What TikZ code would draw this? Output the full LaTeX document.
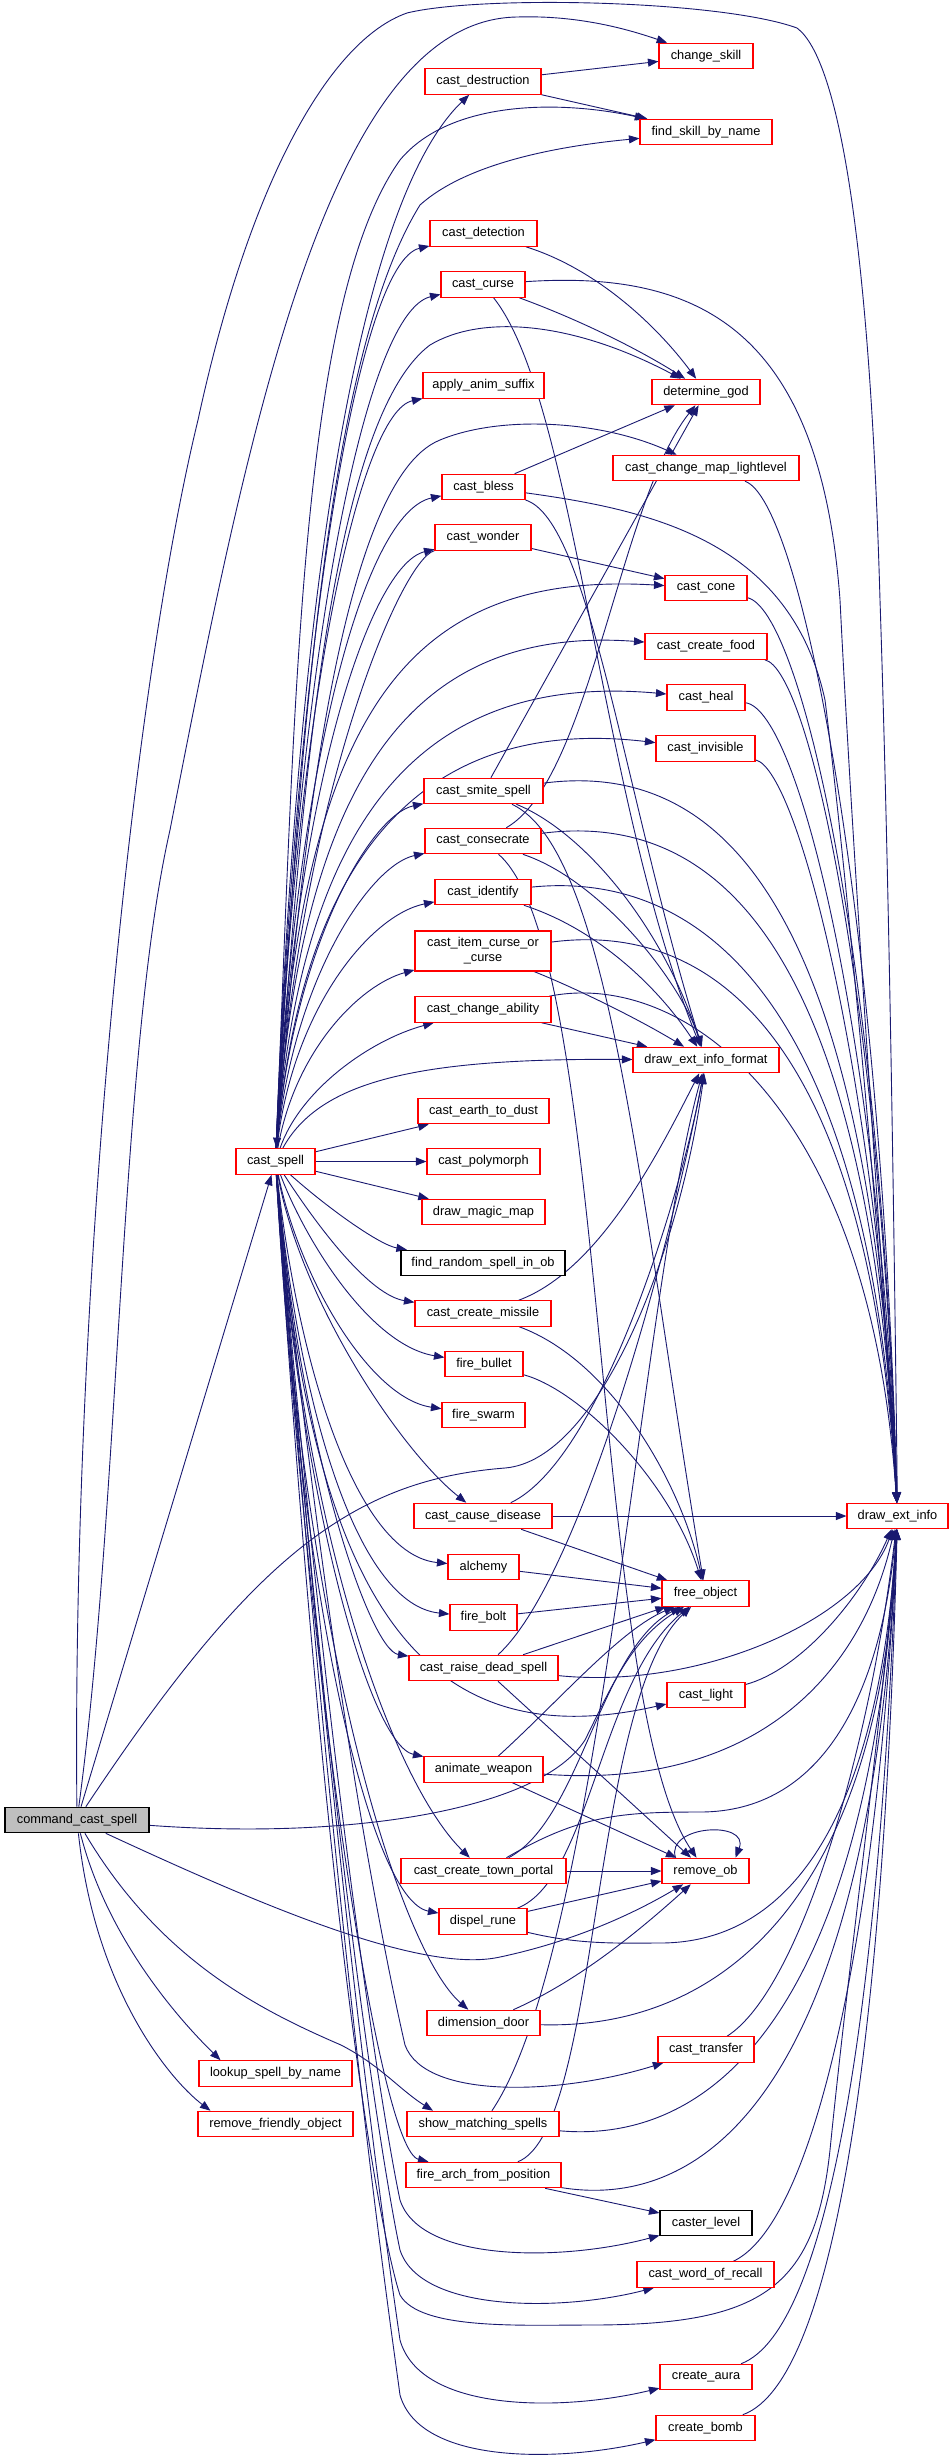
\documentclass[tikz,border=0pt]{standalone}
\usepackage{fontspec}
\setmainfont{Liberation Sans}
\usetikzlibrary{arrows.meta}
\pgfdeclarelayer{bg}
\pgfsetlayers{bg,main}
\definecolor{edgec}{HTML}{191970}
\definecolor{nred}{HTML}{FF0000}
\definecolor{ngray}{HTML}{BFBFBF}
\newcommand\nfont{\fontsize{12.8bp}{15bp}\selectfont}
\begin{document}
\begin{tikzpicture}[x=1bp,y=-1bp,
  box/.style={draw=nred, fill=white, line width=1.1bp, minimum height=25.5bp, inner sep=0pt, font=\nfont, align=center},
  bbox/.style={box, draw=black},
  e/.style={draw=edgec, line width=0.9bp, -{Triangle[length=10.5bp,width=8bp]}}]
\useasboundingbox (0,0) rectangle (949,2459);
% nodes
\node[box, minimum width=94bp] (chs) at (706,56) {change\_skill};
\node[box, minimum width=116bp] (cdes) at (483,81.5) {cast\_destruction};
\node[box, minimum width=132bp] (fsbn) at (706,132) {find\_skill\_by\_name};
\node[box, minimum width=107bp] (cdet) at (483.5,233.5) {cast\_detection};
\node[box, minimum width=84bp] (ccur) at (483,284.5) {cast\_curse};
\node[box, minimum width=121bp] (aas) at (483.5,385.5) {apply\_anim\_suffix};
\node[box, minimum width=108bp] (dgod) at (706,392) {determine\_god};
\node[box, minimum width=186bp] (cml) at (706,468) {cast\_change\_map\_lightlevel};
\node[box, minimum width=83bp] (cbl) at (483.5,487) {cast\_bless};
\node[box, minimum width=96bp] (cwon) at (483,537.5) {cast\_wonder};
\node[box, minimum width=82bp] (ccone) at (706,588) {cast\_cone};
\node[box, minimum width=122bp] (cfood) at (706,646.5) {cast\_create\_food};
\node[box, minimum width=78bp] (cheal) at (706,697.5) {cast\_heal};
\node[box, minimum width=99bp] (cinv) at (705.5,748.5) {cast\_invisible};
\node[box, minimum width=119bp] (csmi) at (483.5,791) {cast\_smite\_spell};
\node[box, minimum width=116bp] (ccons) at (483,841) {cast\_consecrate};
\node[box, minimum width=96bp] (cid) at (483,892) {cast\_identify};
\node[box, minimum width=136bp, minimum height=40bp] (citem) at (483,951) {cast\_item\_curse\_or\\\_curse};
\node[box, minimum width=136bp] (cchab) at (483,1009.5) {cast\_change\_ability};
\node[box, minimum width=146bp] (deif) at (706,1060) {draw\_ext\_info\_format};
\node[box, minimum width=131bp] (cetd) at (483.5,1111) {cast\_earth\_to\_dust};
\node[box, minimum width=79bp] (cs) at (275.5,1161.5) {cast\_spell};
\node[box, minimum width=113bp] (cpoly) at (483.5,1161.5) {cast\_polymorph};
\node[box, minimum width=123bp] (dmm) at (483.5,1212) {draw\_magic\_map};
\node[bbox, minimum width=164bp] (frs) at (483,1263) {find\_random\_spell\_in\_ob};
\node[box, minimum width=136bp] (cmis) at (483,1313.5) {cast\_create\_missile};
\node[box, minimum width=78bp] (fbul) at (484,1364) {fire\_bullet};
\node[box, minimum width=83bp] (fsw) at (483.5,1415) {fire\_swarm};
\node[box, minimum width=138bp] (ccd) at (483,1516) {cast\_cause\_disease};
\node[box, minimum width=101bp] (dei) at (897.5,1516) {draw\_ext\_info};
\node[box, minimum width=71bp] (alc) at (483.5,1567) {alchemy};
\node[box, minimum width=87bp] (fobj) at (705.5,1593.5) {free\_object};
\node[box, minimum width=67bp] (fbolt) at (483.5,1617.5) {fire\_bolt};
\node[box, minimum width=149bp] (crd) at (483.5,1668) {cast\_raise\_dead\_spell};
\node[box, minimum width=78bp] (cli) at (706,1695) {cast\_light};
\node[box, minimum width=119bp] (anw) at (483.5,1769.5) {animate\_weapon};
\node[box, draw=black, fill=ngray, minimum width=144bp] (ccs) at (77,1820) {command\_cast\_spell};
\node[box, minimum width=165bp] (ctp) at (483.5,1871) {cast\_create\_town\_portal};
\node[box, minimum width=87bp] (rob) at (705.5,1871) {remove\_ob};
\node[box, minimum width=88bp] (dru) at (483,1921.5) {dispel\_rune};
\node[box, minimum width=113bp] (ddo) at (483.5,2023) {dimension\_door};
\node[box, minimum width=96bp] (ctr) at (706,2049.5) {cast\_transfer};
\node[box, minimum width=153bp] (lsbn) at (275.5,2073.5) {lookup\_spell\_by\_name};
\node[box, minimum width=155bp] (rfo) at (275.5,2124) {remove\_friendly\_object};
\node[box, minimum width=152bp] (sms) at (483,2124) {show\_matching\_spells};
\node[box, minimum width=155bp] (fafp) at (483.5,2175) {fire\_arch\_from\_position};
\node[bbox, minimum width=92bp] (cl) at (706,2223) {caster\_level};
\node[box, minimum width=137bp] (cwr) at (705.5,2274.5) {cast\_word\_of\_recall};
\node[box, minimum width=92bp] (cau) at (706,2377) {create\_aura};
\node[box, minimum width=99bp] (cbo) at (705.5,2428) {create\_bomb};
\begin{pgfonlayer}{bg}
\fill[white] (0,0) rectangle (949,2459);
% cast_spell up to middle column
\draw[e] (cs) .. controls (300,520) and (370,190) .. (cdes);
\draw[e] (cs) .. controls (298,620) and (360,262) .. (cdet);
\draw[e] (cs) .. controls (298,650) and (365,312) .. (ccur);
\draw[e] (cs) .. controls (296,700) and (360,412) .. (aas);
\draw[e] (cs) .. controls (296,760) and (365,512) .. (cbl);
\draw[e] (cs) .. controls (295,790) and (370,565) .. (cwon);
\draw[e] (cs) .. controls (292,950) and (370,815) .. (csmi);
\draw[e] (cs) .. controls (292,980) and (370,865) .. (ccons);
\draw[e] (cs) .. controls (292,1010) and (370,915) .. (cid);
\draw[e] (cs) .. controls (295,1050) and (360,985) .. (citem);
\draw[e] (cs) .. controls (300,1090) and (370,1040) .. (cchab);
% cast_spell arcs to right column
\draw[e] (cs) .. controls (295,700) and (300,300) .. (400,160) .. controls (450,100) and (560,100) .. (fsbn);
\draw[e] (cs) .. controls (300,720) and (330,350) .. (420,205) .. controls (470,160) and (570,145) .. (fsbn);
\draw[e] (cs) .. controls (300,800) and (330,420) .. (430,345) .. controls (480,315) and (570,320) .. (dgod);
\draw[e] (cs) .. controls (300,850) and (340,480) .. (440,440) .. controls (500,415) and (600,420) .. (cml);
\draw[e] (cs) .. controls (300,720) and (400,570) .. (ccone);
\draw[e] (cs) .. controls (300,780) and (410,625) .. (cfood);
\draw[e] (cs) .. controls (300,820) and (420,672) .. (cheal);
\draw[e] (cs) .. controls (300,860) and (420,715) .. (cinv);
\draw[e] (cs) .. controls (320,1080) and (420,1058) .. (deif);
\draw[e] (cs) -- (cetd);
\draw[e] (cs) -- (cpoly);
\draw[e] (cs) -- (dmm);
% cast_spell down to middle column
\draw[e] (cs) .. controls (330,1210) and (380,1245) .. (frs);
\draw[e] (cs) .. controls (320,1230) and (370,1295) .. (cmis);
\draw[e] (cs) .. controls (305,1240) and (370,1345) .. (fbul);
\draw[e] (cs) .. controls (300,1280) and (370,1398) .. (fsw);
\draw[e] (cs) .. controls (300,1300) and (400,1450) .. (ccd);
\draw[e] (cs) .. controls (300,1380) and (360,1555) .. (alc);
\draw[e] (cs) .. controls (300,1420) and (360,1605) .. (fbolt);
\draw[e] (cs) .. controls (300,1450) and (370,1650) .. (crd);
\draw[e] (cs) .. controls (300,1500) and (370,1745) .. (anw);
\draw[e] (cs) .. controls (305,1560) and (400,1790) .. (ctp);
\draw[e] (cs) .. controls (300,1600) and (370,1900) .. (dru);
\draw[e] (cs) .. controls (305,1650) and (400,1950) .. (ddo);
\draw[e] (cs) .. controls (310,1700) and (380,2150) .. (fafp);
% cast_spell to lower right column
\draw[e] (cs) .. controls (310,1600) and (420,1760) .. (cli);
\draw[e] (cs) .. controls (330,1700) and (390,1980) .. (405,2045) .. controls (425,2100) and (560,2095) .. (ctr);
\draw[e] (cs) .. controls (330,1800) and (385,2130) .. (400,2200) .. controls (420,2262) and (560,2262) .. (cl);
\draw[e] (cs) .. controls (330,1850) and (385,2180) .. (400,2250) .. controls (420,2312) and (560,2312) .. (cwr);
\draw[e] (cs) .. controls (335,1900) and (390,2270) .. (400,2340) .. controls (420,2412) and (560,2412) .. (cau);
\draw[e] (cs) .. controls (335,1950) and (390,2320) .. (400,2395) .. controls (420,2465) and (560,2462) .. (cbo);
\draw[e] (cs) .. controls (330,2000) and (385,2250) .. (400,2295) .. controls (420,2330) and (520,2325) .. (590,2325) .. controls (760,2325) and (815,2290) .. (830,2150) .. controls (850,1950) and (885,1700) .. (dei);
% command_cast_spell
\draw[e] (ccs) -- (cs);
\draw[e] (ccs) .. controls (72,1300) and (130,700) .. (198,420) .. controls (250,180) and (330,40) .. (407,13) .. controls (480,-5) and (720,0) .. (797,28) .. controls (840,60) and (870,250) .. (880,600) .. controls (890,900) and (895,1300) .. (dei);
\draw[e] (ccs) .. controls (120,1500) and (120,1050) .. (170,830) .. controls (250,420) and (330,20) .. (517,17) .. controls (580,15) and (630,30) .. (chs);
\draw[e] (ccs) .. controls (250,1560) and (350,1480) .. (505,1468) .. controls (600,1460) and (680,1250) .. (deif);
\draw[e] (ccs) .. controls (350,1840) and (540,1810) .. (585,1740) .. controls (610,1690) and (630,1640) .. (fobj);
\draw[e] (ccs) .. controls (250,1900) and (420,1975) .. (500,1957) .. controls (580,1940) and (640,1910) .. (rob);
\draw[e] (ccs) .. controls (110,1950) and (195,2035) .. ([xshift=-55bp]lsbn.north);
\draw[e] (ccs) .. controls (95,1990) and (170,2080) .. ([xshift=-65bp]rfo.north);
\draw[e] (ccs) .. controls (160,1960) and (260,2010) .. (341,2045) .. controls (380,2065) and (400,2090) .. ([xshift=-50bp]sms.north);
% middle to right
\draw[e] (cdes) -- (chs);
\draw[e] (cdes) -- (fsbn);
\draw[e] (cdet) .. controls (600,270) and (660,330) .. (dgod);
\draw[e] (ccur) .. controls (580,320) and (640,350) .. (dgod);
\draw[e] (ccur) .. controls (700,270) and (820,330) .. (840,600) .. controls (855,900) and (885,1300) .. (dei);
\draw[e] (ccur) .. controls (575,400) and (600,800) .. (deif);
\draw[e] (cbl) -- (dgod);
\draw[e] (cbl) .. controls (650,510) and (790,540) .. (825,700) .. controls (850,900) and (885,1300) .. (dei);
\draw[e] (cbl) .. controls (590,520) and (625,800) .. (deif);
\draw[e] (cwon) -- (ccone);
\draw[e] (cwon) .. controls (400,560) and (300,800) .. (cs);
\draw[e] (cml) .. controls (800,500) and (880,900) .. (dei);
\draw[e] (ccone) .. controls (800,610) and (880,950) .. (dei);
\draw[e] (cfood) .. controls (810,670) and (880,1000) .. (dei);
\draw[e] (cheal) .. controls (800,710) and (880,1050) .. (dei);
\draw[e] (cinv) .. controls (800,770) and (880,1100) .. (dei);
\draw[e] (csmi) -- (dgod);
\draw[e] (csmi) .. controls (720,760) and (870,900) .. (dei);
\draw[e] (csmi) .. controls (580,830) and (660,920) .. (deif);
\draw[e] (csmi) .. controls (610,850) and (640,1200) .. (fobj);
\draw[e] (ccons) .. controls (590,780) and (620,500) .. (dgod);
\draw[e] (ccons) .. controls (720,810) and (870,950) .. (dei);
\draw[e] (ccons) .. controls (600,880) and (680,980) .. (deif);
\draw[e] (ccons) .. controls (610,950) and (590,1700) .. (rob);
\draw[e] (cid) .. controls (700,870) and (870,1000) .. (dei);
\draw[e] (cid) .. controls (600,930) and (660,990) .. (deif);
\draw[e] (citem) .. controls (720,920) and (870,1050) .. (dei);
\draw[e] (citem) .. controls (580,990) and (640,1020) .. (deif);
\draw[e] (cchab) .. controls (680,970) and (870,1100) .. (dei);
\draw[e] (cchab) -- (deif);
\draw[e] (cmis) .. controls (600,1270) and (660,1150) .. (deif);
\draw[e] (cmis) .. controls (610,1360) and (680,1480) .. (fobj);
\draw[e] (fbul) .. controls (580,1390) and (670,1480) .. (fobj);
\draw[e] (ccd) .. controls (600,1460) and (680,1200) .. (deif);
\draw[e] (ccd) -- (dei);
\draw[e] (ccd) -- (fobj);
\draw[e] (alc) -- (fobj);
\draw[e] (fbolt) -- (fobj);
\draw[e] (crd) -- (fobj);
\draw[e] (crd) .. controls (580,1580) and (670,1250) .. (deif);
\draw[e] (crd) .. controls (700,1690) and (860,1620) .. (dei);
\draw[e] (crd) -- (rob);
\draw[e] (cli) .. controls (800,1670) and (860,1600) .. (dei);
\draw[e] (anw) .. controls (560,1700) and (620,1630) .. (fobj);
\draw[e] (anw) .. controls (750,1790) and (860,1680) .. (dei);
\draw[e] (anw) -- (rob);
\draw[e] (ctp) -- (rob);
\draw[e] (ctp) .. controls (580,1820) and (600,1650) .. (fobj);
\draw[e] (ctp) .. controls (580,1815) and (620,1812) .. (700,1812) .. controls (820,1812) and (880,1700) .. (dei);
\draw[e] (dru) -- (rob);
\draw[e] (dru) .. controls (590,1880) and (600,1680) .. (fobj);
\draw[e] (dru) .. controls (580,1945) and (620,1943) .. (660,1943) .. controls (800,1943) and (880,1800) .. (dei);
\draw[e] (ddo) .. controls (580,1980) and (640,1930) .. (rob);
\draw[e] (ddo) .. controls (720,2030) and (880,1900) .. (dei);
\draw[e] (ctr) .. controls (800,1990) and (870,1750) .. (dei);
\draw[e] (sms) .. controls (600,1950) and (640,1300) .. (deif);
\draw[e] (sms) .. controls (720,2145) and (870,2000) .. (dei);
\draw[e] (fafp) -- (cl);
\draw[e] (fafp) .. controls (700,2210) and (870,2100) .. (dei);
\draw[e] (fafp) .. controls (600,2130) and (590,1700) .. (fobj);
\draw[e] (cwr) .. controls (820,2220) and (880,1900) .. (dei);
\draw[e] (cau) .. controls (830,2330) and (880,2000) .. (dei);
\draw[e] (cbo) .. controls (840,2380) and (885,2000) .. (dei);
\draw[e] ([xshift=-30bp]rob.north) .. controls (665,1825) and (750,1820) .. ([xshift=30bp]rob.north);
\end{pgfonlayer}
\end{tikzpicture}
\end{document}
